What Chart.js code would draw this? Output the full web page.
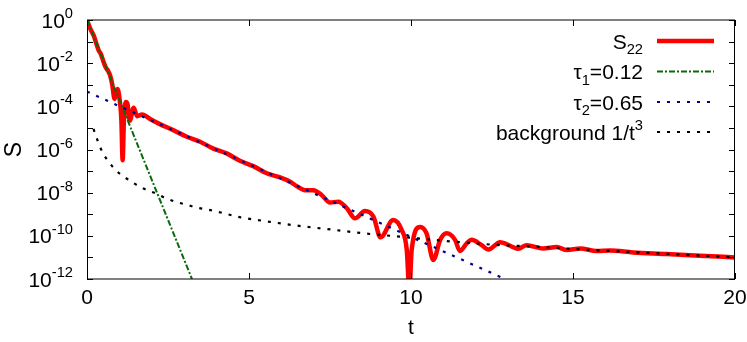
<!DOCTYPE html>
<html><head><meta charset="utf-8">
<script src="https://cdn.jsdelivr.net/npm/chart.js@4/dist/chart.umd.min.js"></script>
<style>html,body{margin:0;padding:0;background:#fff}</style>
</head><body>
<canvas id="c" width="747" height="342"></canvas>
<script>
const FONT = '"Liberation Sans", Arial, Helvetica, sans-serif';
const FS = 21;

// S22 (red)
const tS22 = [0, 0.1, 0.22, 0.3, 0.37, 0.42, 0.52, 0.58, 0.65, 0.72, 0.78, 0.85, 0.94, 1.0, 1.06, 1.10, 1.14, 1.2, 1.25, 1.32, 1.44, 1.55, 1.70, 1.95, 2.25, 2.66, 3.08, 3.49, 3.90, 4.31, 4.72, 5.13, 5.55, 5.96, 6.27, 6.47, 6.73, 6.99, 7.24, 7.50, 7.76, 8.02, 8.27, 8.58, 8.84, 9.06, 9.45, 9.71, 9.87, 9.95, 10.02, 10.28, 10.48, 10.69, 10.90, 11.10, 11.36, 11.51, 11.72, 11.87, 12.18, 12.39, 12.75, 13.11, 13.31, 13.57, 14.08, 14.50, 14.81, 15.22, 15.73, 16.14, 16.86, 17.89, 18.92, 20];
const S22 = [1, 0.4, 0.17, 0.071, 0.036, 0.028, 0.0105, 0.0063, 0.0044, 0.0025, 1.0e-3, 2.2e-4, 6.3e-4, 2.5e-4, 2.5e-5, 3.2e-7, 2.5e-5, 1.6e-4, 1.26e-4, 2.2e-5, 8.5e-5, 3.5e-5, 4.2e-5, 2.6e-5, 1.5e-5, 7.9e-6, 3.9e-6, 2.3e-6, 1.1e-6, 6.6e-7, 3.0e-7, 1.7e-7, 7.9e-8, 5.1e-8, 3.2e-8, 2.0e-8, 1.3e-8, 1.3e-8, 7.8e-9, 3.5e-9, 3.8e-9, 1.9e-9, 6.5e-10, 1.4e-9, 7.8e-10, 8.5e-11, 5.4e-10, 1.9e-10, 2.2e-11, 3e-13, 2.2e-11, 2.6e-10, 1.3e-10, 7.6e-12, 6.5e-11, 1.3e-10, 6.5e-11, 2.0e-11, 4.5e-11, 6.5e-11, 3.7e-11, 2.3e-11, 5.0e-11, 3.2e-11, 2.5e-11, 3.7e-11, 2.6e-11, 3.0e-11, 2.2e-11, 2.6e-11, 2.0e-11, 2.1e-11, 1.7e-11, 1.45e-11, 1.2e-11, 1.0e-11];

// tau1 = 0.12 fit (green)
const tTau1 = [0, 3.24];
const Tau1 = [1, 1e-12];

// tau2 = 0.65 fit (blue)
const tTau2 = [0, 12.9];
const Tau2 = [4.8e-4, 1e-12];

// background 1/t^3 (black)
const tBg = [0.2, 0.34, 0.47, 0.65, 0.89, 1.14, 1.45, 1.76, 2.12, 2.43, 2.74, 3.10, 3.40, 3.77, 4.13, 4.74, 5.46, 6.18, 6.90, 7.62, 8.55, 9.68, 10.69, 11.72, 12.75, 13.78, 14.9, 17.4, 20];
const Bg = [9e-6, 2.3e-6, 7.9e-7, 3.0e-7, 1.1e-7, 5.5e-8, 2.7e-8, 1.5e-8, 9.3e-9, 5.5e-9, 3.8e-9, 2.7e-9, 2.0e-9, 1.6e-9, 1.2e-9, 7.2e-10, 4.9e-10, 3.4e-10, 2.5e-10, 1.9e-10, 1.3e-10, 9.1e-11, 6.5e-11, 4.8e-11, 3.7e-11, 3.2e-11, 2.5e-11, 1.6e-11, 1.0e-11];

const xTicks = [0, 5, 10, 15, 20];
const yLabelExps = [0, -2, -4, -6, -8, -10, -12];
const yTickExps = [0, -1, -2, -3, -4, -5, -6, -7, -8, -9, -10, -11, -12];

const legendTexts = [
  [['S', 'n'], ['22', 'sub']],
  [['τ', 'n'], ['1', 'sub'], ['=0.12', 'n']],
  [['τ', 'n'], ['2', 'sub'], ['=0.65', 'n']],
  [['background 1/t', 'n'], ['3', 'sup']]
];

const pts = (xs, ys) => xs.map((x, i) => ({x: x, y: ys[i]}));

const styles = [
  {borderColor: '#ff0000', borderWidth: 4.5, borderDash: []},
  {borderColor: '#0a6a0a', borderWidth: 2, borderDash: [6, 2, 2, 2]},
  {borderColor: '#00008b', borderWidth: 2.2, borderDash: [3, 7]},
  {borderColor: '#000000', borderWidth: 2.2, borderDash: [3, 7]}
];

function drawRich(ctx, parts, xRight, yMid, size) {
  const sub = size * 0.7;
  const fontOf = k => (k === 'n' ? size : sub) + 'px ' + FONT;
  let total = 0;
  for (const [t, k] of parts) { ctx.font = fontOf(k); total += ctx.measureText(t).width; }
  let x = xRight - total;
  const base = yMid + size * 0.36;
  ctx.textAlign = 'left';
  ctx.textBaseline = 'alphabetic';
  ctx.fillStyle = '#000';
  for (const [t, k] of parts) {
    ctx.font = fontOf(k);
    let y = base;
    if (k === 'sub') y = base + size * 0.28;
    if (k === 'sup') y = base - size * 0.45;
    ctx.fillText(t, x, y);
    x += ctx.measureText(t).width;
  }
}

const decor = {
  id: 'decor',
  afterDraw(chart) {
    const ctx = chart.ctx;
    const a = chart.chartArea;
    const xs = chart.scales.x, ys = chart.scales.y;
    ctx.save();
    ctx.strokeStyle = '#000';
    ctx.lineWidth = 1;
    ctx.setLineDash([]);
    ctx.strokeRect(a.left + 0.5, a.top, a.right - a.left - 1, a.bottom - a.top);
    ctx.beginPath();
    const tl = 6;
    for (const e of yTickExps) {
      const y = Math.round(ys.getPixelForValue(Math.pow(10, e))) + 0.5;
      ctx.moveTo(a.left, y); ctx.lineTo(a.left + tl, y);
      ctx.moveTo(a.right, y); ctx.lineTo(a.right - tl, y);
    }
    for (const v of xTicks) {
      const x = Math.round(xs.getPixelForValue(v)) + 0.5;
      ctx.moveTo(x, a.bottom); ctx.lineTo(x, a.bottom - tl);
      ctx.moveTo(x, a.top); ctx.lineTo(x, a.top + tl);
    }
    ctx.stroke();
    for (const e of yLabelExps) {
      const y = ys.getPixelForValue(Math.pow(10, e));
      drawRich(ctx, [['10', 'n'], [String(e), 'sup']], 73, y, FS);
    }
    const rows = [41, 71.5, 102, 132];
    legendTexts.forEach((parts, i) => {
      drawRich(ctx, parts, 643, rows[i], FS);
      const st = styles[i];
      ctx.strokeStyle = st.borderColor;
      ctx.lineWidth = st.borderWidth;
      ctx.setLineDash(st.borderDash);
      ctx.beginPath();
      ctx.moveTo(657, rows[i]); ctx.lineTo(714, rows[i]);
      ctx.stroke();
    });
    ctx.restore();
  }
};

const mk = (label, xs, ys, st) => Object.assign({
  label: label, data: pts(xs, ys), pointRadius: 0, fill: false,
  cubicInterpolationMode: 'monotone', borderJoinStyle: 'round', borderCapStyle: 'butt'
}, st);

new Chart(document.getElementById('c'), {
  type: 'line',
  data: {
    datasets: [
      mk('background 1/t³', tBg, Bg, styles[3]),
      mk('τ₂=0.65', tTau2, Tau2, styles[2]),
      mk('τ₁=0.12', tTau1, Tau1, styles[1]),
      mk('S₂₂', tS22, S22, styles[0])
    ]
  },
  options: {
    responsive: false,
    animation: false,
    devicePixelRatio: 1,
    layout: {padding: {top: 20, right: 12, left: 0, bottom: 0}},
    plugins: {legend: {display: false}, tooltip: {enabled: false}},
    scales: {
      x: {
        type: 'linear', min: 0, max: 20,
        afterBuildTicks: s => { s.ticks = xTicks.map(v => ({value: v})); },
        afterFit: s => { s.height = 63; s.paddingLeft = 0; s.paddingRight = 0; },
        grid: {display: false, drawTicks: false},
        border: {display: false},
        ticks: {color: '#000', font: {family: FONT, size: FS}, padding: 7, maxRotation: 0},
        title: {display: true, text: 't', color: '#000', font: {family: FONT, size: FS, lineHeight: 1}, padding: {top: 0, bottom: 3}}
      },
      y: {
        type: 'logarithmic', min: 1e-12, max: 1,
        afterFit: s => { s.width = 87; s.paddingTop = 0; s.paddingBottom = 0; },
        grid: {display: false, drawTicks: false},
        border: {display: false},
        ticks: {display: false},
        title: {display: true, text: 'S', color: '#000', font: {family: FONT, size: 23, lineHeight: 1}, padding: {top: 3, bottom: 0}}
      }
    }
  },
  plugins: [decor]
});
</script>
</body></html>
